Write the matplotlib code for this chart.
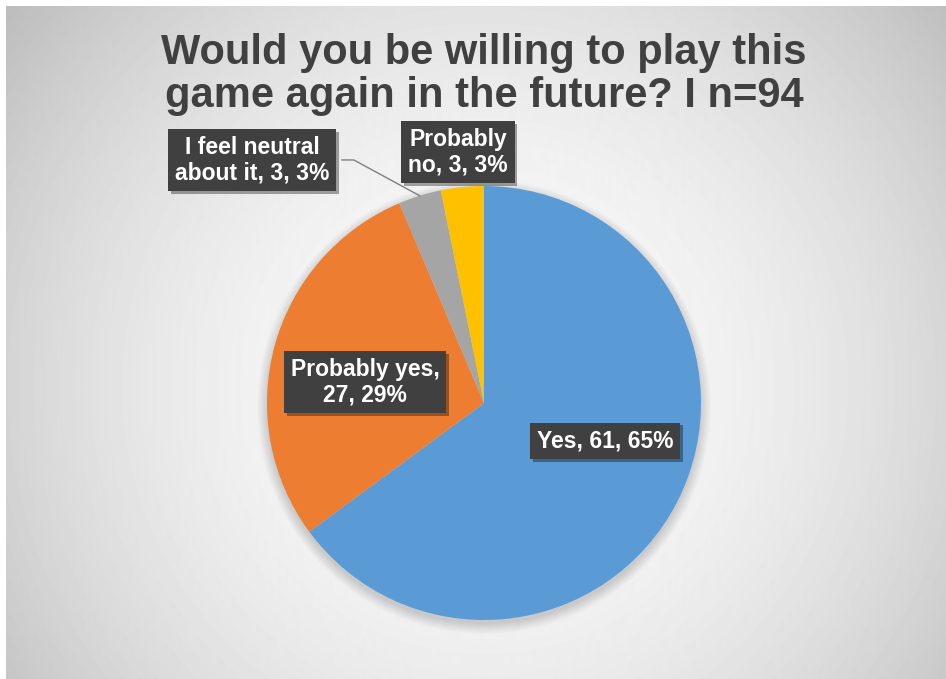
import numpy as np
import matplotlib
matplotlib.use("Agg")
import matplotlib.pyplot as plt
import matplotlib.patheffects as pe

# ── Data ─────────────────────────────────────────────────────
categories = ["Yes", "Probably yes", "I feel neutral about it", "Probably no"]
counts     = [61, 27, 3, 3]
colors     = ["#5B9BD5", "#ED7D31", "#A5A5A5", "#FFC000"]
label_text = ["Yes, 61, 65%", "Probably yes,\n27, 29%",
              "I feel neutral\nabout it, 3, 3%", "Probably\nno, 3, 3%"]
title_lines = ["Would you be willing to play this",
               "game again in the future? I n=94"]

W, H = 946, 679
plt.rcParams["font.family"] = ["Liberation Sans", "DejaVu Sans"]

fig = plt.figure(figsize=(W / 100, H / 100), dpi=100)
fig.patch.set_facecolor("white")

# ── Background: radial grey gradient ─────────────────────────
bg = fig.add_axes([6 / W, 0, (W - 6) / W, (H - 6) / H])
yy, xx = np.mgrid[0:H - 6, 0:W - 6]
d = np.hypot(xx - 478, yy - 380) / np.hypot(478, 380)
grey = np.clip(250 - 62 * d ** 2, 0, 255) / 255.0
bg.imshow(grey, cmap="gray", vmin=0, vmax=1, aspect="auto")
bg.set_axis_off()

# ── Title (two lines, baselines placed separately) ───────────
for line, base_px in zip(title_lines, [64, 107]):
    fig.text(484 / W, 1 - base_px / H, line, ha="center", va="baseline",
             fontsize=30, fontweight="bold", color="#404040")

# ── Pie ──────────────────────────────────────────────────────
cx, cy, r = 484, 403, 217
ax = fig.add_axes([(cx - r) / W, (H - cy - r) / H, 2 * r / W, 2 * r / H])
ax.set_axis_off()

# soft shadow behind the pie
for k in range(10):
    ax.add_patch(plt.Circle((0.0, -0.018), 1.0 + 0.005 * k, color="black",
                            alpha=0.015, zorder=0, lw=0, clip_on=False))

wedges, _ = ax.pie(counts, colors=colors, startangle=90, counterclock=False,
                   radius=1.0, wedgeprops=dict(linewidth=0))
for w in wedges:
    w.set_zorder(2)
ax.set_xlim(-1, 1)
ax.set_ylim(-1, 1)

# label positions (data coords of the label box centres)
label_pos = [(0.558, -0.175), (-0.548, 0.097), (-1.069, 1.12), (-0.12, 1.157)]
shadow = [pe.withSimplePatchShadow(offset=(2, -2), shadow_rgbFace="black", alpha=0.35)]
for txt, (lx, ly) in zip(label_text, label_pos):
    t = ax.text(lx, ly, txt, ha="center", va="center", fontsize=16.5,
                fontweight="bold", color="white", linespacing=1.12, zorder=5,
                bbox=dict(boxstyle="square,pad=0.3", fc="#404040", ec="none"),
                clip_on=False)
    t.get_bbox_patch().set_path_effects(shadow)

# leader line for the neutral slice
total = sum(counts)
mid = (counts[0] + counts[1] + counts[2] / 2) / total
ang = np.deg2rad(90 - 360 * mid)
ax.plot([-0.655, -0.60, np.cos(ang)], [1.12, 1.12, np.sin(ang)],
        color="#7f7f7f", lw=1.0, zorder=3, clip_on=False)

fig.savefig("out.png", dpi=100)
